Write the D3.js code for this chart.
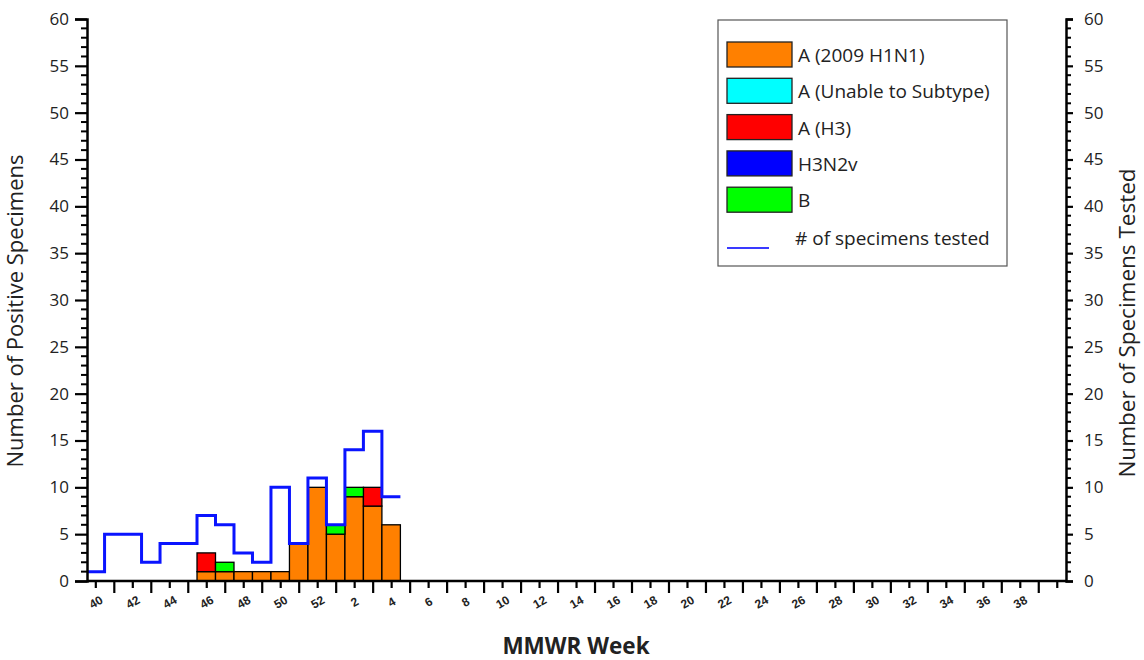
<!DOCTYPE html>
<html>
<head>
<meta charset="utf-8">
<script src="https://cdn.jsdelivr.net/npm/d3@7"></script>
<style>
  body { margin: 0; background: #fff; }
  svg { font-family: 'Open Sans', 'Noto Sans', sans-serif; }
</style>
</head>
<body>
<script>
// MMWR weeks, season 40..52 then 1..39
const weeks = d3.range(40, 53).concat(d3.range(1, 40))
// positive specimens by type (only weeks with data, rest 0)
const h1n1    = [0,0,0,0,0,0,1,1,1,1,1,4,10,5,9,8,6]
const unable  = [0,0,0,0,0,0,0,0,0,0,0,0,0,0,0,0,0]
const h3      = [0,0,0,0,0,0,2,0,0,0,0,0,0,0,0,2,0]
const h3n2v   = [0,0,0,0,0,0,0,0,0,0,0,0,0,0,0,0,0]
const fluB    = [0,0,0,0,0,0,0,1,0,0,0,0,0,1,1,0,0]
const tested  = [1,5,5,2,4,4,7,6,3,2,10,4,11,6,14,16,9]

const series = [
  { key: 'h1n1', name: 'A (2009 H1N1)', color: '#ff8000', values: h1n1 },
  { key: 'unable', name: 'A (Unable to Subtype)', color: '#00ffff', values: unable },
  { key: 'h3', name: 'A (H3)', color: '#ff0000', values: h3 },
  { key: 'h3n2v', name: 'H3N2v', color: '#0000ff', values: h3n2v },
  { key: 'b', name: 'B', color: '#00ff00', values: fluB }
]

const W = 1144, H = 660
const mLeft = 87, mRight = 1066, mTop = 19, mBottom = 581

const svg = d3.select('body').append('svg').attr('width', W).attr('height', H)

const x = d3.scaleLinear().domain([-0.45, 52.5]).range([mLeft, mRight])
const y = d3.scaleLinear().domain([0, 60]).range([mBottom, mTop])
const bw = x(1) - x(0)

// stacked bars
const rows = h1n1.map((_, i) => {
  const r = { i }
  series.forEach(s => { r[s.key] = s.values[i] })
  return r
})
const stacked = d3.stack().keys(series.map(s => s.key))(rows)

stacked.forEach((layer, li) => {
  svg.append('g')
    .selectAll('rect')
    .data(layer.filter(d => d[1] - d[0] > 0))
    .join('rect')
    .attr('x', d => x(d.data.i) - bw / 2)
    .attr('width', bw)
    .attr('y', d => y(d[1]))
    .attr('height', d => y(d[0]) - y(d[1]))
    .attr('fill', series[li].color)
    .attr('stroke', '#000')
    .attr('stroke-width', 1.3)
})

// tested line, centred steps
const line = d3.line()
  .x(d => d[0]).y(d => d[1])
const pts = []
tested.forEach((v, i) => {
  pts.push([i === 0 ? mLeft : x(i - 0.5), y(v)])
  pts.push([x(i + 0.5), y(v)])
})
svg.append('path')
  .attr('d', line(pts))
  .attr('fill', 'none')
  .attr('stroke', '#0a14ff')
  .attr('stroke-width', 3)

// left axis
const yMajor = d3.range(0, 61, 5)
const yMinor = d3.range(0, 61, 1).filter(v => v % 5)
const axL = svg.append('g').attr('transform', `translate(${mLeft},0)`)
axL.call(d3.axisLeft(y).tickValues(yMajor).tickSize(12).tickPadding(6))
axL.selectAll('line.minor').data(yMinor).join('line')
  .attr('x1', -6).attr('x2', 0).attr('y1', d => y(d)).attr('y2', d => y(d))
  .attr('stroke', '#000').attr('stroke-width', 2)

// right axis
const axR = svg.append('g').attr('transform', `translate(${mRight},0)`)
axR.call(d3.axisRight(y).tickValues(yMajor).tickSize(7).tickPadding(11))
axR.selectAll('line.minor').data(yMinor).join('line')
  .attr('x1', 0).attr('x2', 5).attr('y1', d => y(d)).attr('y2', d => y(d))
  .attr('stroke', '#000').attr('stroke-width', 2)

;[axL, axR].forEach(a => {
  a.select('.domain').attr('stroke-width', 2.5)
  a.selectAll('.tick line').attr('stroke-width', 2.2)
  a.selectAll('.tick text').attr('font-size', 17).attr('font-family', "'Open Sans', sans-serif").attr('fill', '#222')
})

// x axis: labelled ticks short, the others long
const axX = svg.append('g').attr('transform', `translate(0,${mBottom})`)
axX.call(d3.axisBottom(x).tickValues(d3.range(0, 53)).tickSize(7)
  .tickFormat(i => (i % 2 === 0 && i < weeks.length) ? weeks[i] : ''))
axX.select('.domain').attr('d', `M${mLeft},0H${mRight}`).attr('stroke-width', 2.5)
axX.selectAll('.tick line')
  .attr('stroke-width', 2.2)
  .attr('y2', i => i % 2 === 0 ? 7 : 12)
axX.selectAll('.tick text')
  .attr('font-size', 12).attr('font-weight', 'bold').attr('fill', '#222')
  .attr('text-anchor', 'middle')
  .attr('transform', 'translate(0,21) rotate(-30)')
  .attr('dy', '0.35em').attr('y', 0).attr('x', 0)

// axis titles
svg.append('text')
  .attr('transform', `translate(23,311) rotate(-90)`)
  .attr('text-anchor', 'middle')
  .attr('font-size', 22).attr('fill', '#222')
  .text('Number of Positive Specimens')
svg.append('text')
  .attr('transform', `translate(1135,323) rotate(-90)`)
  .attr('text-anchor', 'middle')
  .attr('font-size', 22.5).attr('fill', '#222')
  .text('Number of Specimens Tested')
svg.append('text')
  .attr('x', 576).attr('y', 654)
  .attr('text-anchor', 'middle')
  .attr('font-size', 22.5).attr('font-weight', 'bold').attr('fill', '#222')
  .text('MMWR Week')

// legend
const lg = svg.append('g')
lg.append('rect').attr('x', 718).attr('y', 20).attr('width', 289).attr('height', 246)
  .attr('fill', '#fff').attr('stroke', '#555').attr('stroke-width', 1.2)
series.forEach((s, i) => {
  const yy = 42 + i * 36.3
  lg.append('rect').attr('x', 727).attr('y', yy).attr('width', 65).attr('height', 25)
    .attr('fill', s.color).attr('stroke', '#222').attr('stroke-width', 1.3)
  lg.append('text').attr('x', 798).attr('y', yy + 20)
    .attr('font-size', 19).attr('fill', '#222').text(s.name)
})
lg.append('line').attr('x1', 727).attr('x2', 769).attr('y1', 248).attr('y2', 248)
  .attr('stroke', '#3a3aff').attr('stroke-width', 2)
lg.append('text').attr('x', 795).attr('y', 245)
  .attr('font-size', 19).attr('fill', '#222').text('# of specimens tested')
</script>
</body>
</html>
